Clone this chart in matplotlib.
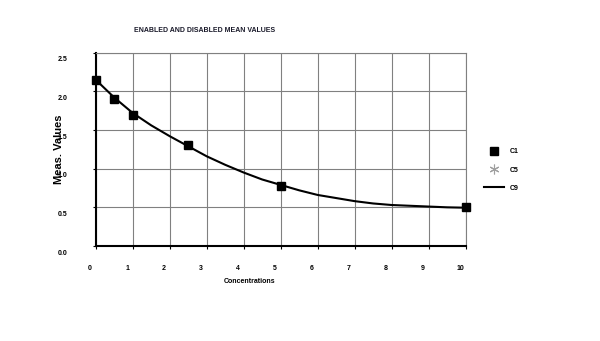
import matplotlib
matplotlib.use("Agg")
import matplotlib.pyplot as plt
from matplotlib.lines import Line2D
from matplotlib.transforms import ScaledTranslation

plt.rcParams["font.family"] = ["Liberation Sans", "DejaVu Sans"]
plt.rcParams["font.weight"] = "bold"

# measured points (C1)
conc = [0.0, 0.5, 1.0, 2.5, 5.0, 10.0]
c1_vals = [2.15, 1.90, 1.69, 1.30, 0.78, 0.50]

# fitted curve (C9)
curve_x = [0.0, 0.5, 1.0, 1.5, 2.0, 2.5, 3.0, 3.5, 4.0, 4.5, 5.0,
           5.5, 6.0, 6.5, 7.0, 7.5, 8.0, 8.5, 9.0, 9.5, 10.0]
curve_y = [2.15, 1.92, 1.72, 1.56, 1.42, 1.29, 1.16, 1.05, 0.95, 0.86, 0.79,
           0.72, 0.66, 0.62, 0.58, 0.55, 0.53, 0.52, 0.51, 0.50, 0.495]

xticks = list(range(0, 11))
yticks = [0.0, 0.5, 1.0, 1.5, 2.0, 2.5]
ytick_labels = ["0.0", "0.5", "1.0", "1.5", "2.0", "2.5"]

fig = plt.figure(figsize=(6.0, 3.41), dpi=100)
ax = fig.add_axes([0.1595, 0.2786, 0.6165, 0.567])

ax.plot(curve_x, curve_y, color="black", lw=1.5, zorder=3)
ax.plot(conc, c1_vals, ls="none", marker="s", ms=6, color="black",
        zorder=4, clip_on=False)

ax.set_xlim(0, 10)
ax.set_ylim(0, 2.5)
ax.set_xticks(xticks)
ax.set_yticks(yticks)
ax.set_yticklabels(ytick_labels)
ax.grid(True, color="#808080", lw=0.8)
ax.set_axisbelow(True)

for side in ["top", "right"]:
    ax.spines[side].set_color("#808080")
    ax.spines[side].set_linewidth(0.8)
for side in ["left", "bottom"]:
    ax.spines[side].set_color("black")
    ax.spines[side].set_linewidth(1.5)

ax.tick_params(axis="both", labelsize=5, length=2.5, width=0.8, colors="black")
ax.tick_params(axis="y", pad=18)
ax.tick_params(axis="x", pad=11)
for lab in ax.get_xticklabels():
    lab.set_transform(lab.get_transform() + ScaledTranslation(-4 / 72, 0, fig.dpi_scale_trans))
for lab in ax.get_yticklabels():
    lab.set_transform(lab.get_transform() + ScaledTranslation(0, -4.5 / 72, fig.dpi_scale_trans))

ax.set_ylabel("Meas. Values", fontsize=8, fontweight="bold")
ax.yaxis.set_label_coords(-0.085, 0.5)
ax.set_xlabel("Concentrations", fontsize=5, fontweight="bold")
ax.xaxis.set_label_coords(0.417, -0.165)

fig.text(205 / 600, 1 - 30 / 341, "ENABLED AND DISABLED MEAN VALUES",
         fontsize=5, fontweight="bold", ha="center", va="center", color="#1a1a2a")

handles = [
    Line2D([], [], ls="none", marker="s", ms=6, color="black"),
    Line2D([], [], ls="none", marker=(6, 2, 0), ms=7, color="#a0a0a0", mew=0.8),
    Line2D([], [], color="black", lw=1.5),
]
fig.legend(handles, ["C1", "C5", "C9"], loc="center left",
           bbox_to_anchor=(484 / 600, 1 - 170 / 341), frameon=False,
           fontsize=5, labelspacing=1.6, handlelength=2.9, handletextpad=0.8,
           borderpad=0, borderaxespad=0)

fig.savefig("out.png", dpi=100)
